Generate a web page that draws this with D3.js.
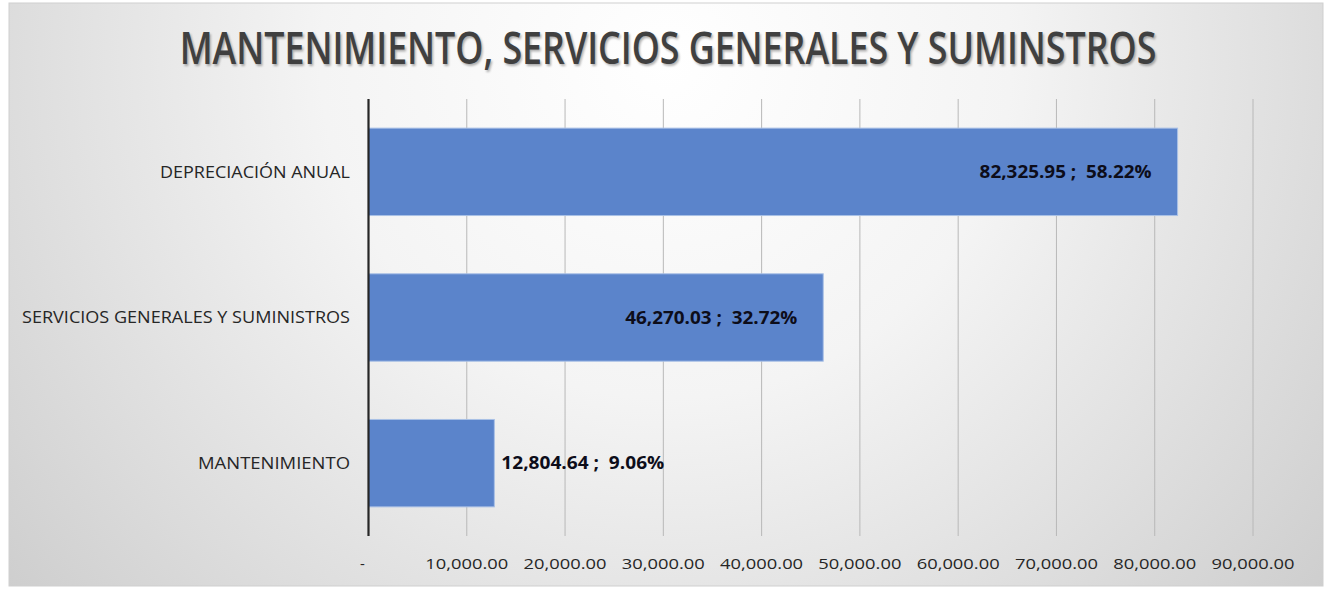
<!DOCTYPE html>
<html>
<head>
<meta charset="utf-8">
<script src="https://cdn.jsdelivr.net/npm/d3@7"></script>
<style>
  html, body { margin: 0; padding: 0; background: #fff; }
  svg { display: block; }
</style>
</head>
<body>
<div id="chart"></div>
<script>
// Chart data
const categories = ["DEPRECIACIÓN ANUAL", "SERVICIOS GENERALES Y SUMINISTROS", "MANTENIMIENTO"];
const values = [82325.95, 46270.03, 12804.64];
const percents = ["58.22%", "32.72%", "9.06%"];
const tickValues = [0, 10000, 20000, 30000, 40000, 50000, 60000, 70000, 80000, 90000];
const titleText = "MANTENIMIENTO, SERVICIOS GENERALES Y SUMINSTROS";

const width = 1337, height = 589;
const frame = { x: 9, y: 3, w: 1314, h: 583 };
const plot = { left: 368.5, right: 1253, top: 99, bottom: 536 };
// rendered widths of the category labels in the original (Calibri)
const labelWidths = [190, 328, 152];
const titleWidth = 977;

const svg = d3.select("#chart").append("svg")
    .attr("width", width)
    .attr("height", height);

// Background gradient like the spreadsheet chart
const defs = svg.append("defs");
const grad = defs.append("radialGradient")
    .attr("id", "bg")
    .attr("cx", "50%").attr("cy", "10%")
    .attr("r", "75%")
    .attr("gradientTransform", "translate(0.5,0.1) scale(1,2.2) translate(-0.5,-0.1)");
grad.append("stop").attr("offset", "0%").attr("stop-color", "#ffffff");
grad.append("stop").attr("offset", "35%").attr("stop-color", "#f4f4f4");
grad.append("stop").attr("offset", "100%").attr("stop-color", "#c4c4c4");

svg.append("rect")
    .attr("x", frame.x).attr("y", frame.y)
    .attr("width", frame.w).attr("height", frame.h)
    .attr("fill", "url(#bg)")
    .attr("stroke", "#cfcfcf")
    .attr("stroke-width", 1);

// Title: condensed with a horizontal scale, soft shadow copy behind it
const blur = defs.append("filter").attr("id", "blur")
    .attr("x", "-5%").attr("y", "-30%").attr("width", "110%").attr("height", "160%");
blur.append("feGaussianBlur").attr("stdDeviation", 1.2);

const title = svg.append("g")
    .style("font-family", "'Open Sans', 'Noto Sans', sans-serif")
    .style("font-weight", 600)
    .style("font-size", "46px");

const shadowText = title.append("text")
    .attr("text-anchor", "middle")
    .attr("fill", "#000")
    .attr("fill-opacity", 0.3)
    .attr("filter", "url(#blur)")
    .text(titleText);

const mainText = title.append("text")
    .attr("text-anchor", "middle")
    .attr("fill", "#404040")
    .text(titleText);

const sx = titleWidth / mainText.node().getComputedTextLength();
shadowText.attr("transform", `translate(669.5,65.5) scale(${sx},1)`);
mainText.attr("transform", `translate(668,64) scale(${sx},1)`);

// Scales
const x = d3.scaleLinear()
    .domain([0, 90000])
    .range([plot.left, plot.right]);

const y = d3.scaleBand()
    .domain(categories)
    .range([plot.top, plot.bottom])
    .paddingInner(0.4)
    .paddingOuter(0.2);

// Vertical gridlines
svg.append("g")
    .selectAll("line")
    .data(tickValues.slice(1))
    .join("line")
    .attr("x1", d => x(d)).attr("x2", d => x(d))
    .attr("y1", plot.top).attr("y2", plot.bottom)
    .attr("stroke", "#b8b8b8")
    .attr("stroke-width", 1);

// Bars
svg.append("g")
    .selectAll("rect")
    .data(values)
    .join("rect")
    .attr("x", x(0))
    .attr("y", (d, i) => y(categories[i]))
    .attr("width", d => x(d) - x(0))
    .attr("height", y.bandwidth())
    .attr("fill", "#5b84cb")
    .attr("stroke", "#a9c0e6")
    .attr("stroke-width", 1);

// Category axis line
svg.append("line")
    .attr("x1", x(0)).attr("x2", x(0))
    .attr("y1", plot.top).attr("y2", plot.bottom)
    .attr("stroke", "#262626")
    .attr("stroke-width", 2.2);

// Category labels
svg.append("g")
    .selectAll("text")
    .data(categories)
    .join("text")
    .attr("x", 350)
    .attr("y", d => y(d) + y.bandwidth() / 2)
    .attr("dy", "0.35em")
    .attr("text-anchor", "end")
    .attr("fill", "#262626")
    .style("font-family", "'Open Sans', 'Noto Sans', sans-serif")
    .style("font-size", "17px")
    .attr("textLength", (d, i) => labelWidths[i])
    .attr("lengthAdjust", "spacingAndGlyphs")
    .text(d => d);

// Value axis tick labels
const fmt = d3.format(",.2f");
svg.append("g")
    .selectAll("text")
    .data(tickValues)
    .join("text")
    .attr("x", d => d === 0 ? x(d) - 6 : x(d))
    .attr("y", 569)
    .attr("text-anchor", "middle")
    .attr("fill", "#262626")
    .style("font-family", "'Open Sans', 'Noto Sans', sans-serif")
    .style("font-size", "15px")
    .attr("textLength", d => d === 0 ? null : 83)
    .attr("lengthAdjust", "spacingAndGlyphs")
    .text(d => d === 0 ? "-" : fmt(d));

// Data labels: inside end for large bars, outside end for the small one
svg.append("g")
    .selectAll("text")
    .data(values)
    .join("text")
    .attr("x", d => x(d) > 700 ? x(d) - 26 : x(d) + 7)
    .attr("y", (d, i) => y(categories[i]) + y.bandwidth() / 2)
    .attr("dy", "0.36em")
    .attr("text-anchor", d => x(d) > 700 ? "end" : "start")
    .attr("fill", "#0d0d1a")
    .style("font-family", "'Open Sans', 'Noto Sans', sans-serif")
    .style("font-weight", "bold")
    .style("font-size", "17px")
    .attr("xml:space", "preserve")
    .attr("textLength", (d, i) => (fmt(d) + " ;  " + percents[i]).length * 9.05)
    .attr("lengthAdjust", "spacingAndGlyphs")
    .text((d, i) => fmt(d) + " ;  " + percents[i]);
</script>
</body>
</html>
